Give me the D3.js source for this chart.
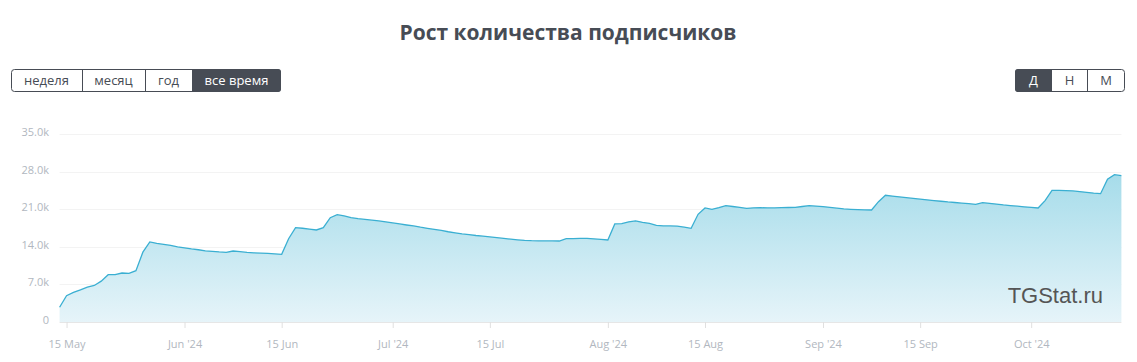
<!DOCTYPE html>
<html><head><meta charset="utf-8">
<script src="https://cdn.jsdelivr.net/npm/d3@7"></script>
<style>
body{margin:0;background:#fff;font-family:"Open Sans",Lato,sans-serif;}
svg{display:block;}
</style></head>
<body>
<svg id="chart" width="1137" height="362"></svg>
<script>
const startDate = "2024-05-14";
const values = [2740,4900,5500,5980,6500,6800,7600,8810,8810,9120,9060,9560,13000,14900,14650,14450,14250,14000,13800,13600,13450,13250,13150,13050,12980,13220,13100,12950,12880,12820,12780,12700,12600,15500,17560,17450,17300,17130,17560,19420,19980,19750,19450,19230,19100,18950,18820,18650,18450,18250,18060,17880,17650,17450,17250,17050,16800,16600,16390,16250,16100,15980,15850,15700,15550,15420,15300,15200,15140,15120,15100,15090,15080,15510,15540,15560,15580,15480,15380,15270,18250,18300,18650,18810,18550,18350,18000,17880,17880,17850,17650,17440,20050,21230,20980,21300,21660,21500,21330,21170,21250,21280,21250,21230,21280,21320,21350,21500,21660,21580,21480,21350,21200,21050,20980,20930,20880,20850,22400,23590,23450,23300,23150,23000,22870,22740,22610,22480,22350,22250,22130,22020,21910,22220,22100,21950,21790,21680,21570,21450,21340,21230,22600,24520,24500,24470,24400,24280,24150,24000,23890,26600,27430,27240];
const yTicks = [0,7000,14000,21000,28000,35000];
const yTickLabels = ["0","7.0k","14.0k","21.0k","28.0k","35.0k"];
const xTickDates = ["2024-05-15","2024-06-01","2024-06-15","2024-07-01","2024-07-15","2024-08-01","2024-08-15","2024-09-01","2024-09-15","2024-10-01"];
const xTickLabels = ["15 May","Jun '24","15 Jun","Jul '24","15 Jul","Aug '24","15 Aug","Sep '24","15 Sep","Oct '24"];
const periodButtons = ["неделя","месяц","год","все время"];
const scaleButtons = ["Д","Н","М"];
const title = "Рост количества подписчиков";

const parse = d3.utcParse("%Y-%m-%d");
const t0 = parse(startDate);
const data = values.map((v,i)=>({date:d3.utcDay.offset(t0,i), value:v}));

const svg = d3.select("#chart");
const L = 59.6, R = 1121.4, T = 134, B = 322;
const x = d3.scaleUtc().domain(d3.extent(data,d=>d.date)).range([L,R]);
const y = d3.scaleLinear().domain([0,35000]).range([B,T]);

// title
svg.append("text").attr("x",568).attr("y",40).attr("text-anchor","middle")
  .attr("font-family","'Open Sans',sans-serif").attr("font-weight",700).attr("font-size",21)
  .attr("fill","#474c55").text(title);

// button groups
function buttons(items, x0, widths, activeIdx){
  const g = svg.append("g");
  let cx = x0;
  const h = 23, yb = 69;
  const total = d3.sum(widths);
  g.append("rect").attr("x",x0+0.5).attr("y",yb+0.5).attr("width",total-1).attr("height",h-1)
    .attr("rx",3).attr("fill","#fff").attr("stroke","#474c55");
  items.forEach((s,i)=>{
    const w = widths[i];
    if(i===activeIdx){
      const isLast = i===items.length-1, isFirst = i===0;
      g.append("path").attr("fill","#474c55").attr("d",()=>{
        const r=3, x1=cx, x2=cx+w, y1=yb, y2=yb+h;
        const rl = isFirst?r:0, rr = isLast?r:0;
        return `M${x1+rl},${y1}H${x2-rr}`+(rr?`Q${x2},${y1} ${x2},${y1+rr}`:"")+`V${y2-rr}`+(rr?`Q${x2},${y2} ${x2-rr},${y2}`:"")+`H${x1+rl}`+(rl?`Q${x1},${y2} ${x1},${y2-rl}`:"")+`V${y1+rl}`+(rl?`Q${x1},${y1} ${x1+rl},${y1}`:"")+"Z";
      });
    }
    if(i>0 && i!==activeIdx && i-1!==activeIdx){
      g.append("line").attr("x1",cx+0.5).attr("x2",cx+0.5).attr("y1",yb).attr("y2",yb+h).attr("stroke","#474c55");
    }
    g.append("text").attr("x",cx+w/2).attr("y",yb+16).attr("text-anchor","middle")
      .attr("font-family","'Open Sans',sans-serif").attr("font-size",13)
      .attr("fill", i===activeIdx?"#fff":"#474c55").text(s);
    cx += w;
  });
}
buttons(periodButtons, 11, [71,63,47,89], 3);
buttons(scaleButtons, 1015, [37,35,38], 0);

// gridlines
svg.append("g").selectAll("line").data(yTicks.slice(1)).join("line")
  .attr("x1",L).attr("x2",R).attr("y1",d=>Math.round(y(d))+0.5).attr("y2",d=>Math.round(y(d))+0.5)
  .attr("stroke","#f3f3f3");

const defs = svg.append("defs");
const area = d3.area().x(d=>x(d.date)).y0(B).y1(d=>y(d.value));
const gradAbs = defs.append("linearGradient").attr("id","fillabs").attr("gradientUnits","userSpaceOnUse")
  .attr("x1",0).attr("y1",y(27430)).attr("x2",0).attr("y2",B);
gradAbs.append("stop").attr("offset","0%").attr("stop-color","#a6dcea");
gradAbs.append("stop").attr("offset","100%").attr("stop-color","#e6f4f9");
svg.append("path").datum(data).attr("d",area).attr("fill","url(#fillabs)");

// watermark
svg.append("text").attr("x",1103).attr("y",303).attr("text-anchor","end")
  .attr("font-family","'Liberation Sans',Arial,sans-serif").attr("font-size",22)
  .attr("fill","#555").text("TGStat.ru");

const line = d3.line().x(d=>x(d.date)).y(d=>y(d.value));
svg.append("path").datum(data).attr("d",line).attr("fill","none").attr("stroke","#3aafd2").attr("stroke-width",1.3);

// y axis labels
const yAxis = d3.axisLeft(y).tickValues(yTicks).tickFormat((d,i)=>yTickLabels[i]).tickSize(0).tickPadding(0);
const ya = svg.append("g").attr("transform",`translate(${49},-2)`).call(yAxis);
ya.select(".domain").remove();
ya.selectAll("text").attr("font-family","'Open Sans',sans-serif").attr("font-size",11).attr("fill","#b1b7c0");

// x axis
const xTicks = xTickDates.map(parse);
const xAxis = d3.axisBottom(x).tickValues(xTicks).tickFormat((d,i)=>xTickLabels[i]).tickSize(6).tickPadding(12).tickSizeOuter(0);
const xa = svg.append("g").attr("transform",`translate(0,${B})`).call(xAxis);
xa.select(".domain").attr("stroke","#e6e6e6").attr("d",`M${L},0.5H${R}`);
xa.selectAll(".tick line").attr("stroke","#e0e0e0");
xa.selectAll("text").attr("font-family","'Open Sans',sans-serif").attr("font-size",11).attr("fill","#b1b7c0");
</script>
</body></html>
